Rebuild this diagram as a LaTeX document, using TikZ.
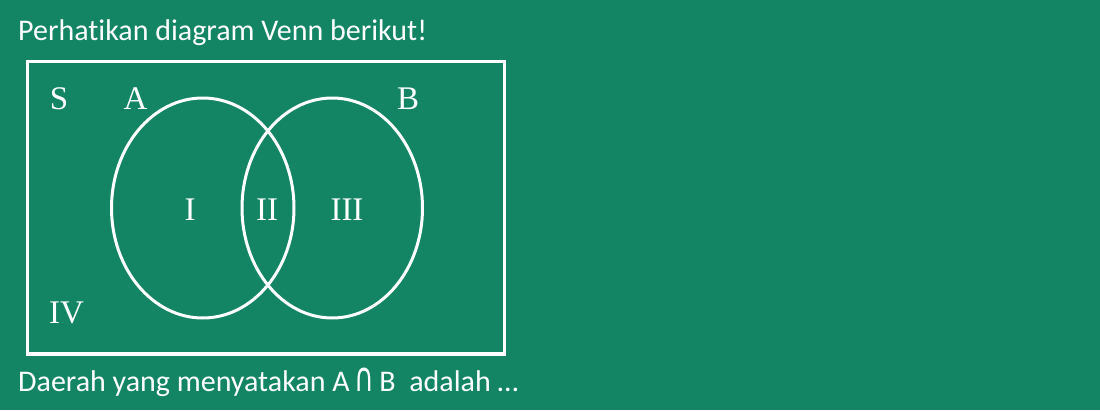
\documentclass[tikz,border=0pt]{standalone}
\usepackage{fontspec}
\usepackage{graphicx}
\usetikzlibrary{shapes.geometric}
\setmainfont{Carlito}[Ligatures=NoCommon]
\newfontfamily\lblfont{Liberation Serif}
\newfontfamily\symfont{DejaVu Sans}
\definecolor{bg}{HTML}{138564}
\tikzset{
  txt/.style={text=white, inner sep=0pt, anchor=base west, font=\fontsize{30}{32}\selectfont},
  lbl/.style={text=white, inner sep=0pt, anchor=base, font=\lblfont\fontsize{33}{36}\selectfont},
  venn/.style={draw=white, line width=3pt},
}
\begin{document}
\begin{tikzpicture}[x=1pt,y=-1pt]
\fill[bg] (0,0) rectangle (1100,410);
\useasboundingbox (0,0) rectangle (1100,410);
\node[txt] (title) at (18,40) {Perhatikan diagram Venn berikut!};
\node[draw=white, line width=3.5pt, minimum width=477pt, minimum height=292.5pt, inner sep=0pt, outer sep=0pt, anchor=north west] (S) at (27.5,61.5) {};
\node[venn, ellipse, minimum width=182.5pt, minimum height=220pt, inner sep=0pt] (A) at (202.75,208) {};
\node[venn, ellipse, minimum width=180.5pt, minimum height=220pt, inner sep=0pt] (B) at (332.25,208) {};
\node[lbl] (ls) at (59,109) {S};
\node[lbl] (la) at (135.5,109) {A};
\node[lbl] (lb) at (408,109) {B};
\node[lbl] (r1) at (190,220) {I};
\node[lbl] (r2) at (267,220) {II};
\node[lbl] (r3) at (347,220) {III};
\node[lbl] (r4) at (66.5,323) {IV};
\node[txt] (q) at (18,391) {Daerah yang menyatakan A\,\scalebox{1.0}[1.5]{\symfont\fontsize{27}{28}\selectfont ∩}\,B\ \ adalah \dots};
\end{tikzpicture}
\end{document}
